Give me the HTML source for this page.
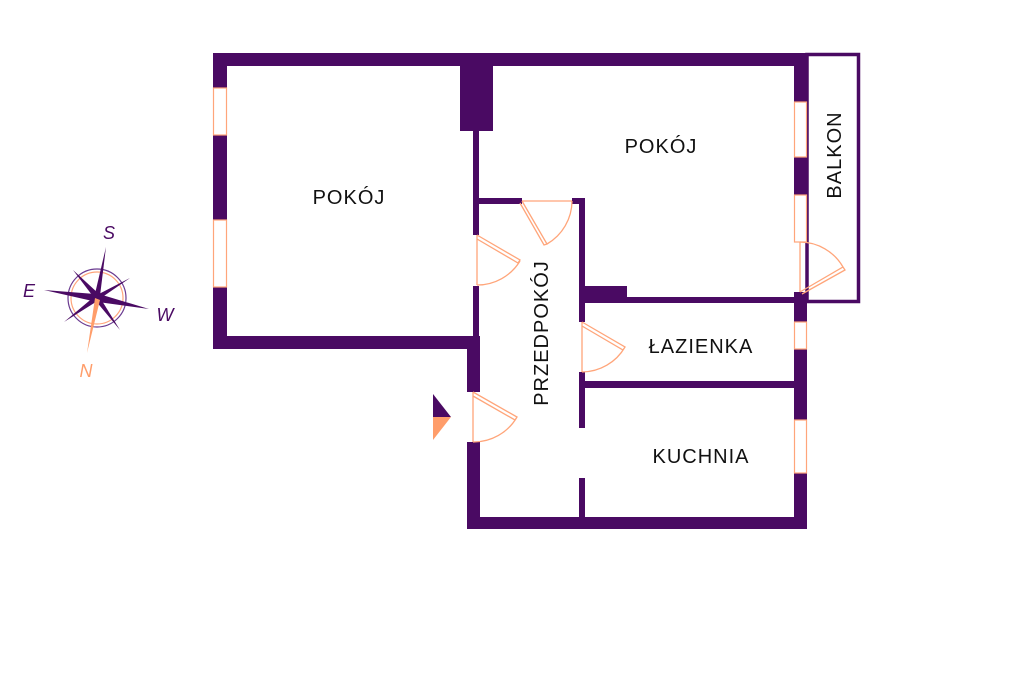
<!DOCTYPE html>
<html><head><meta charset="utf-8"><style>
html,body{margin:0;padding:0;background:#fff;}
svg{display:block;}
text{font-family:"Liberation Sans",sans-serif;}
</style></head><body>
<svg width="1024" height="682" viewBox="0 0 1024 682" xmlns="http://www.w3.org/2000/svg">
<g fill="#4a0a63">
<rect x="213" y="53" width="594" height="13"/>
<rect x="213" y="53" width="14" height="296"/>
<rect x="213" y="336" width="267" height="13"/>
<rect x="460" y="53" width="33" height="78"/>
<rect x="473" y="131" width="6" height="104"/>
<rect x="473" y="286" width="6" height="63"/>
<rect x="467" y="349" width="13" height="43"/>
<rect x="467" y="442" width="13" height="87"/>
<rect x="479" y="198" width="43" height="6"/>
<rect x="572" y="198" width="13" height="6"/>
<rect x="579" y="198" width="6" height="124"/>
<rect x="585" y="286" width="42" height="17"/>
<rect x="627" y="297" width="173" height="6"/>
<rect x="579" y="372" width="6" height="56"/>
<rect x="579" y="478" width="6" height="45"/>
<rect x="585" y="381" width="210" height="7"/>
<rect x="467" y="517" width="340" height="12"/>
<rect x="794" y="53" width="13" height="49"/>
<rect x="794" y="157" width="13" height="38"/>
<rect x="794" y="292" width="13" height="30"/>
<rect x="794" y="349" width="13" height="71"/>
<rect x="794" y="473" width="13" height="56"/>
</g>
<rect x="807" y="54.5" width="51.5" height="247" fill="none" stroke="#4a0a63" stroke-width="3.5"/>
<g fill="#fff" stroke="#ffa57a" stroke-width="1.2">
<rect x="213.5" y="88" width="13" height="47"/>
<rect x="213.5" y="220" width="13" height="67"/>
<rect x="794.5" y="102" width="12" height="55"/>
<rect x="794.5" y="195" width="12" height="47"/>
<rect x="794.5" y="322" width="12" height="27"/>
<rect x="794.5" y="420" width="12" height="53"/>
</g>
<g fill="none" stroke="#ffa57a" stroke-width="1.3">
<path d="M477 235 L520 260 L518 263 L477 239 M520 261 A50 50 0 0 1 477 285 M477 235 V285"/>
<path d="M522 201 L547 244 L544 245 L520 203 M547 244 A50 50 0 0 0 572 201 M522 201 H572"/>
<path d="M582 322 L625 347 L623 350 L582 326 M625 347 A50 50 0 0 1 582 372 M582 322 V372"/>
<path d="M473 392 L517 417 L515 420 L473 396 M517 417 A50 50 0 0 1 473 442 M473 392 V442"/>
<path d="M800 292 L843 267 L845 270 L802 294 M843 267 A50 50 0 0 0 800 242 M800 242 V292"/>
</g>
<polygon points="433,394 451,417 433,417" fill="#4a0a63"/>
<polygon points="433,417 451,417 433,440" fill="#ff9d6a"/>
<g font-size="20" fill="#111" text-anchor="middle" letter-spacing="1">
<text x="349" y="204">POKÓJ</text>
<text x="661" y="153">POKÓJ</text>
<text x="701" y="353">ŁAZIENKA</text>
<text x="701" y="463">KUCHNIA</text>
<text transform="translate(548,333) rotate(-90)">PRZEDPOKÓJ</text>
<text transform="translate(841,155) rotate(-90)">BALKON</text>
</g>
<g>
<circle cx="97" cy="298" r="29" fill="none" stroke="#6a3a90" stroke-width="1.2"/>
<circle cx="97" cy="298" r="26" fill="none" stroke="#ffa57a" stroke-width="1.2"/>
<g fill="#4a0a63">
<polygon points="106,247 100,296 94,298"/>
<polygon points="44,290 95,294 97,302"/>
<polygon points="149,309 98,302 99,294"/>
<polygon points="73,270 99,294 95,299"/>
<polygon points="130,278 98,300 95,296"/>
<polygon points="64,322 95,296 99,300"/>
<polygon points="120,330 95,300 99,296"/>
</g>
<polygon points="87,353 95,298 100,300" fill="#ff9d6a"/>
<g font-size="18" font-style="italic" text-anchor="middle">
<text x="109" y="239" fill="#4a0a63">S</text>
<text x="29" y="297" fill="#4a0a63">E</text>
<text x="165" y="321" fill="#4a0a63">W</text>
<text x="86" y="377" fill="#ff9d6a">N</text>
</g>
</g>
</svg>
</body></html>
